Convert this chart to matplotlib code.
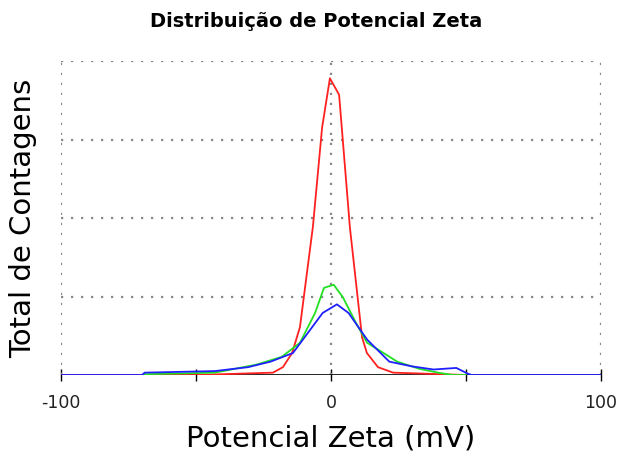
import matplotlib.pyplot as plt

# potencial zeta (mV) / contagens
red_x = [-100, -50, -21.5, -17.8, -14.4, -11.5, -6.7, -3.3, -0.4, 3.0, 7.0, 11.5, 13.3, 17.4, 23.0, 50]
red_y = [0, 0, 0.03, 0.10, 0.28, 0.61, 1.89, 3.15, 3.78, 3.57, 1.88, 0.48, 0.28, 0.10, 0.03, 0]

green_x = [-70, -69, -43, -27.9, -18.3, -11.5, -5.9, -2.6, 1.0, 4.4, 9.3, 13.4, 19.0, 24.5, 32.6, 39.6, 45, 50]
green_y = [0, 0.01, 0.03, 0.13, 0.23, 0.41, 0.79, 1.11, 1.15, 0.99, 0.66, 0.41, 0.29, 0.17, 0.08, 0.03, 0, 0]

blue_x = [-100, -70, -69, -43, -30.7, -22.4, -14.1, -8.7, -3.1, 2.2, 6.5, 13.4, 21.6, 30.0, 38.0, 46.4, 50.5, 52, 100]
blue_y = [0, 0, 0.03, 0.05, 0.10, 0.17, 0.28, 0.53, 0.79, 0.90, 0.79, 0.45, 0.17, 0.11, 0.07, 0.09, 0.02, 0, 0]

xticks = [-100, -50, 0, 50, 100]
xlabels = ['-100', '', '0', '', '100']
xgrid = [-100, 0, 100]
ygrid = [1, 2, 3, 4]

fig = plt.figure(figsize=(6.2, 4.63), dpi=100)
ax = fig.add_axes([61 / 620, 88 / 463, 540 / 620, 314 / 463])

dot = dict(color='#888888', linestyle=(0, (1, 3.5)), linewidth=1.6)
for gx in xgrid:
    ax.axvline(gx, **dot)
for gy in ygrid:
    ax.axhline(gy, **dot)

ax.axhline(0, color='black', linewidth=1.2)
ax.plot(red_x, red_y, color='#ff2020', linewidth=1.3)
ax.plot(green_x, green_y, color='#20e020', linewidth=1.3)
ax.plot(blue_x, blue_y, color='#2020ff', linewidth=1.3)

ax.set_xlim(-100, 100)
ax.set_ylim(0, 4)
for s in ax.spines.values():
    s.set_visible(False)
ax.set_yticks([])
ax.set_xticks(xticks)
ax.set_xticklabels(xlabels, fontsize=12.5, color='#222222')
ax.tick_params(axis='x', direction='inout', length=8, width=1, pad=10)

ax.set_xlabel('Potencial Zeta (mV)', fontsize=21, labelpad=9)
ax.set_ylabel('Total de Contagens', fontsize=21, labelpad=17)
fig.suptitle('Distribuição de Potencial Zeta', fontsize=14, fontweight='bold', y=0.975, x=0.51)

fig.savefig('out.png')
